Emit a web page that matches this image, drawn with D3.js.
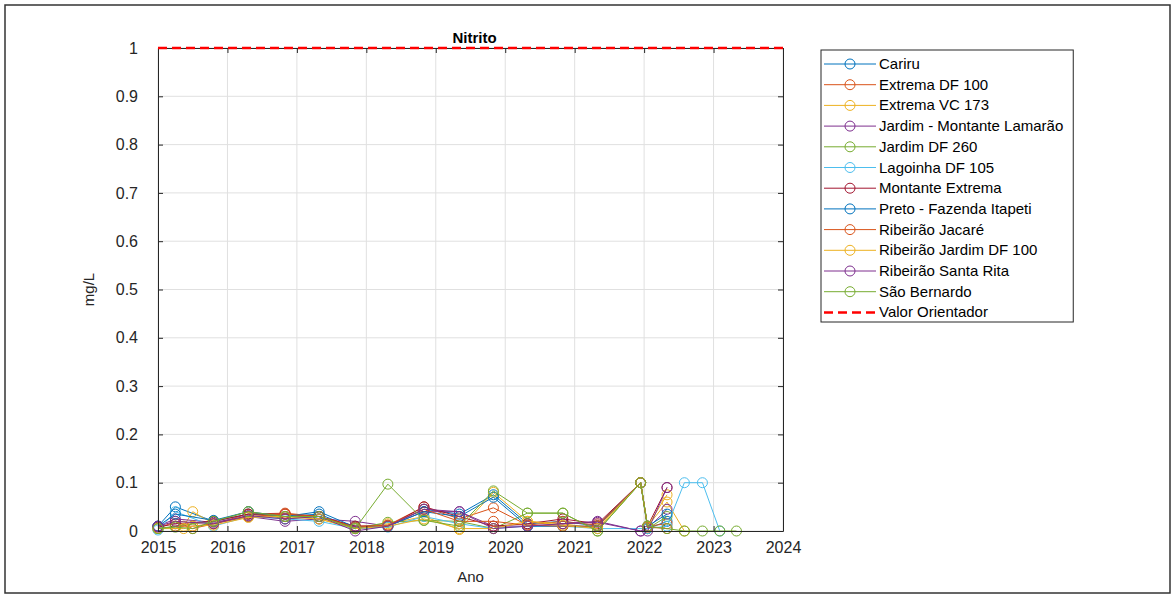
<!DOCTYPE html>
<html><head><meta charset="utf-8">
<script src="https://cdn.jsdelivr.net/npm/d3@7"></script>
<style>body{margin:0;background:#fff}svg{display:block;font-family:"Liberation Sans",Arial,sans-serif}</style>
</head><body><svg id="c" width="1176" height="597"></svg>
<script>
const title = "Nitrito";
const xLabel = "Ano";
const yLabel = "mg/L";
const xTicks = [2015,2016,2017,2018,2019,2020,2021,2022,2023,2024];
const yTicks = [0,0.1,0.2,0.3,0.4,0.5,0.6,0.7,0.8,0.9,1];
const seriesNames = ["Cariru","Extrema DF 100","Extrema VC 173","Jardim - Montante Lamarão","Jardim DF 260","Lagoinha DF 105","Montante Extrema","Preto - Fazenda Itapeti","Ribeirão Jacaré","Ribeirão Jardim DF 100","Ribeirão Santa Rita","São Bernardo"];
const seriesColors = ["#0072BD","#D95319","#EDB120","#7E2F8E","#77AC30","#4DBEEE","#A2142F","#0072BD","#D95319","#EDB120","#7E2F8E","#77AC30"];
const refName = "Valor Orientador";
const refValue = 1;

const cariruX = [2015.0,2015.25,2015.8,2016.3,2016.83,2017.32,2017.84,2018.31,2018.83,2019.34,2019.83,2020.32,2020.83,2021.33,2021.95,2022.05,2022.33];
const cariruY = [0.01,0.05,0.02,0.035,0.03,0.035,0.005,0.01,0.045,0.035,0.075,0.015,0.02,0.01,0.1,0.005,0.02];
const extremaDF100X = [2015.0,2015.25,2015.5,2015.8,2016.3,2016.83,2017.32,2017.84,2018.31,2018.83,2019.34,2019.83,2020.32,2020.83,2021.33,2021.95,2022.05,2022.33];
const extremaDF100Y = [0.005,0.02,0.005,0.015,0.035,0.037,0.03,0.01,0.012,0.05,0.025,0.048,0.012,0.02,0.012,0.1,0.01,0.015];
const extremaVC173X = [2015.0,2015.37,2015.5,2015.8,2016.3,2016.83,2017.32,2017.84,2018.31,2018.83,2019.34,2019.83,2020.32,2020.83,2021.33,2021.95,2022.05,2022.33,2022.58];
const extremaVC173Y = [0.005,0.01,0.04,0.015,0.03,0.03,0.025,0.005,0.015,0.03,0.003,0.08,0.02,0.015,0.005,0.1,0.01,0.06,0.0];
const jardimMontX = [2015.0,2015.25,2015.8,2016.3,2016.83,2017.32,2017.84,2018.31,2018.83,2019.34,2019.83,2020.32,2020.83,2021.33,2021.95,2022.05,2022.33];
const jardimMontY = [0.01,0.025,0.018,0.03,0.02,0.025,0.02,0.01,0.04,0.04,0.01,0.01,0.015,0.02,0.0,0.005,0.045];
const jardimDF260X = [2015.0,2015.25,2015.8,2016.3,2016.83,2017.32,2017.84,2018.31,2018.83,2019.34,2019.83,2020.32,2020.83,2021.33,2021.95,2022.05,2022.33];
const jardimDF260Y = [0.005,0.01,0.02,0.04,0.025,0.03,0.005,0.018,0.022,0.02,0.005,0.037,0.037,0.0,0.1,0.005,0.03];
const lagoinhaX = [2015.0,2015.25,2015.8,2016.3,2016.83,2017.32,2017.84,2018.31,2018.83,2019.34,2019.83,2020.32,2020.83,2021.33,2022.05,2022.33,2022.58,2022.84,2023.09];
const lagoinhaY = [0.002,0.04,0.01,0.03,0.025,0.02,0.005,0.008,0.03,0.015,0.005,0.01,0.01,0.005,0.005,0.01,0.1,0.1,0.0];
const montanteX = [2015.0,2015.25,2015.8,2016.3,2016.83,2017.32,2017.84,2018.31,2018.83,2019.34,2019.83,2020.32,2020.83,2021.33,2021.95,2022.05,2022.33];
const montanteY = [0.008,0.015,0.02,0.035,0.035,0.03,0.01,0.01,0.05,0.03,0.01,0.015,0.025,0.015,0.1,0.01,0.09];
const pretoX = [2015.0,2015.25,2015.8,2016.3,2016.83,2017.32,2017.84,2018.31,2018.83,2019.34,2019.83,2020.32,2020.83,2021.33,2021.95,2022.05,2022.33];
const pretoY = [0.01,0.035,0.022,0.04,0.03,0.04,0.008,0.01,0.04,0.03,0.07,0.01,0.01,0.01,0.1,0.01,0.035];
const jacareX = [2015.25,2015.5,2015.8,2016.3,2016.83,2017.32,2017.84,2018.31,2018.83,2019.34,2019.83,2020.32,2020.83,2021.33,2021.95,2022.05,2022.33];
const jacareY = [0.01,0.01,0.015,0.03,0.035,0.03,0.008,0.012,0.045,0.02,0.02,0.012,0.01,0.01,0.1,0.008,0.005];
const ribJardimX = [2015.0,2015.37,2015.5,2015.8,2016.3,2016.83,2017.32,2017.84,2018.31,2018.83,2019.34,2019.83,2020.32,2020.83,2021.33,2021.95,2022.05,2022.33];
const ribJardimY = [0.005,0.005,0.01,0.012,0.028,0.03,0.025,0.005,0.01,0.025,0.005,0.005,0.02,0.012,0.005,0.1,0.01,0.075];
const santaRitaX = [2015.0,2015.25,2015.8,2016.3,2016.83,2017.32,2017.84,2018.31,2018.83,2019.34,2019.83,2020.32,2020.83,2021.33,2021.95,2022.05,2022.33];
const santaRitaY = [0.01,0.02,0.015,0.032,0.025,0.03,0.0,0.01,0.045,0.04,0.005,0.01,0.015,0.018,0.0,0.0,0.09];
const saoBernardoX = [2015.0,2015.25,2015.5,2015.8,2016.3,2016.83,2017.32,2017.84,2018.31,2018.83,2019.34,2019.83,2020.32,2020.83,2021.33,2021.95,2022.05,2022.33,2022.58,2022.84,2023.09,2023.33];
const saoBernardoY = [0.005,0.008,0.005,0.02,0.04,0.03,0.03,0.005,0.097,0.022,0.01,0.083,0.037,0.037,0.0,0.1,0.01,0.005,0.0,0.0,0.0,0.0];

const seriesX = [cariruX,extremaDF100X,extremaVC173X,jardimMontX,jardimDF260X,lagoinhaX,montanteX,pretoX,jacareX,ribJardimX,santaRitaX,saoBernardoX];
const seriesY = [cariruY,extremaDF100Y,extremaVC173Y,jardimMontY,jardimDF260Y,lagoinhaY,montanteY,pretoY,jacareY,ribJardimY,santaRitaY,saoBernardoY];

const svg = d3.select("#c");
svg.append("rect").attr("x",5).attr("y",5).attr("width",1165).attr("height",588)
  .attr("fill","#fff").attr("stroke","#333").attr("stroke-width",1.5);

const L=158,R=783,T=48,B=531;
const x = d3.scaleLinear().domain([2015,2024]).range([L,R]);
const y = d3.scaleLinear().domain([0,1]).range([B,T]);

const g = svg.append("g");
g.selectAll(".gx").data(xTicks).join("line").attr("x1",d=>x(d)).attr("x2",d=>x(d)).attr("y1",T).attr("y2",B).attr("stroke","#e0e0e0").attr("stroke-width",1);
g.selectAll(".gy").data(yTicks).join("line").attr("y1",d=>y(d)).attr("y2",d=>y(d)).attr("x1",L).attr("x2",R).attr("stroke","#e0e0e0").attr("stroke-width",1);

const line = d3.line().x(d=>x(d[0])).y(d=>y(d[1]));
seriesNames.forEach((n,i)=>{
  const pts = seriesX[i].map((v,j)=>[v,seriesY[i][j]]);
  const sg = svg.append("g");
  sg.append("path").attr("d",line(pts)).attr("fill","none").attr("stroke",seriesColors[i]).attr("stroke-width",1);
  sg.selectAll("circle").data(pts).join("circle").attr("cx",d=>x(d[0])).attr("cy",d=>y(d[1])).attr("r",5)
    .attr("fill","none").attr("stroke",seriesColors[i]).attr("stroke-width",1);
});

const axB = d3.axisBottom(x).tickValues(xTicks).tickFormat(d3.format("d")).tickSizeInner(-5).tickSizeOuter(0).tickPadding(11);
const axL = d3.axisLeft(y).tickValues(yTicks).tickFormat(d=>d===0?"0":(d===1?"1":d3.format(".1f")(d))).tickSizeInner(-5).tickSizeOuter(0).tickPadding(20);
const axT = d3.axisTop(x).tickValues(xTicks).tickFormat("").tickSizeInner(-5).tickSizeOuter(0);
const axR = d3.axisRight(y).tickValues(yTicks).tickFormat("").tickSizeInner(-5).tickSizeOuter(0);
[[axB,`translate(0,${B})`],[axL,`translate(${L},0)`],[axT,`translate(0,${T})`],[axR,`translate(${R},0)`]].forEach(([a,t])=>{
  const ag = svg.append("g").attr("transform",t).call(a);
  ag.select(".domain").attr("stroke","#262626");
  ag.selectAll(".tick line").attr("stroke","#262626");
  ag.selectAll("text").attr("fill","#262626").style("font-size","16px").style("font-family","'Liberation Sans',Arial,sans-serif");
});

svg.append("line").attr("x1",x(2015)).attr("x2",x(2024)).attr("y1",y(refValue)).attr("y2",y(refValue))
  .attr("stroke","#FF0000").attr("stroke-width",2.5).attr("stroke-dasharray","9,5");

svg.append("text").attr("x",(L+R)/2+4).attr("y",T-5).attr("text-anchor","middle").attr("font-weight","bold").attr("font-size","15px").attr("fill","#000").text(title);
svg.append("text").attr("x",(L+R)/2).attr("y",582).attr("text-anchor","middle").attr("font-size","15px").attr("fill","#262626").text(xLabel);
svg.append("text").attr("transform",`translate(94,${(T+B)/2}) rotate(-90)`).attr("text-anchor","middle").attr("font-size","15px").attr("fill","#262626").text(yLabel);

const lg = svg.append("g");
const lbox = lg.append("rect").attr("x",821).attr("y",50).attr("height",272).attr("fill","#fff").attr("stroke","#262626").attr("stroke-width",1);
const ly0 = 64, ldy = 20.7;
let maxW = 0;
seriesNames.forEach((n,i)=>{
  const yy = ly0 + i*ldy;
  lg.append("line").attr("x1",824).attr("x2",876).attr("y1",yy).attr("y2",yy).attr("stroke",seriesColors[i]).attr("stroke-width",1);
  lg.append("circle").attr("cx",850).attr("cy",yy).attr("r",5).attr("fill","none").attr("stroke",seriesColors[i]);
  const t = lg.append("text").attr("x",879).attr("y",yy+5).attr("font-size","15px").attr("fill","#000").text(n);
  maxW = Math.max(maxW, t.node().getComputedTextLength());
});
{
  const yy = ly0 + 12*ldy;
  lg.append("line").attr("x1",824).attr("x2",876).attr("y1",yy).attr("y2",yy).attr("stroke","#FF0000").attr("stroke-width",2.5).attr("stroke-dasharray","9,5");
  lg.append("text").attr("x",879).attr("y",yy+5).attr("font-size","15px").attr("fill","#000").text(refName);
}
lbox.attr("width", 879 - 821 + maxW + 10);
</script></body></html>
